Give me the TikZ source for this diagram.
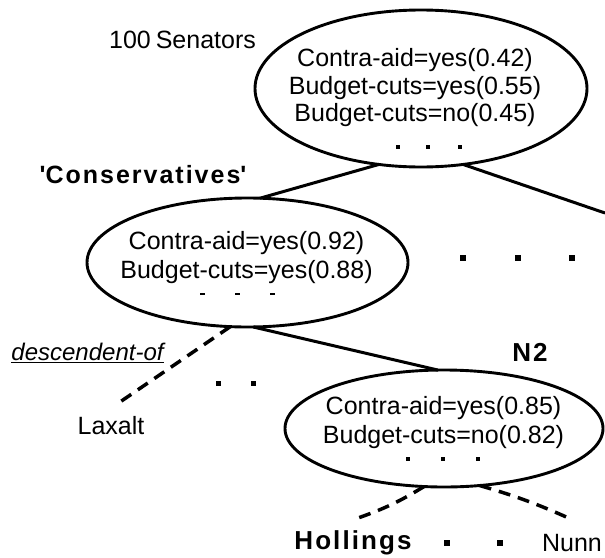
\documentclass[tikz,border=0pt]{standalone}
\usepackage{fontspec}
\setmainfont{Liberation Sans}
\newfontfamily\spacedfont[LetterSpace=8]{Liberation Sans}
\usetikzlibrary{shapes.geometric}
\tikzset{
  ell/.style={ellipse, draw, line width=2.9pt, inner sep=0pt, outer sep=0pt},
  txt/.style={font=\fontsize{25}{28}\selectfont, inner sep=0pt, align=center},
  btxt/.style={font=\spacedfont\bfseries\fontsize{25}{28}\selectfont, inner sep=0pt},
  sq/.style={fill, rectangle, inner sep=0pt, minimum size=#1},
  conn/.style={line width=3pt},
  dconn/.style={line width=3.5pt, dash pattern=on 12pt off 8pt},
}
\begin{document}
\begin{tikzpicture}[x=1pt,y=-1pt]
\useasboundingbox (0,0) rectangle (605,557);
% ellipses
\node[ell, minimum width=332pt, minimum height=157pt] (top) at (421,88.5) {};
\node[ell, minimum width=321pt, minimum height=129pt] (mid) at (247.5,262.5) {};
\node[ell, minimum width=318pt, minimum height=117pt] (low) at (444,428.5) {};
% ellipse texts
\node[txt, font=\fontsize{25}{27.5}\selectfont] (toptxt) at (415,88) {Contra-aid=yes(0.42)\\Budget-cuts=yes(0.55)\\Budget-cuts=no(0.45)};
\node[txt, font=\fontsize{25}{29}\selectfont] (midtxt) at (246.5,257.5) {Contra-aid=yes(0.92)\\Budget-cuts=yes(0.88)};
\node[txt, font=\fontsize{25}{29}\selectfont] (lowtxt) at (443.5,422.5) {Contra-aid=yes(0.85)\\Budget-cuts=no(0.82)};
% dots
\foreach \x [count=\i] in {398,428,460} \node[sq=3.5pt] (td\i) at (\x,147) {};
\foreach \x [count=\i] in {202,237,272} \node[fill, rectangle, inner sep=0pt, minimum width=5pt, minimum height=2.5pt] (mt\i) at (\x,294) {};
\foreach \x [count=\i] in {463,518,572} \node[sq=5.5pt] (rd\i) at (\x,258) {};
\foreach \x [count=\i] in {408,443,478} \node[sq=3.5pt] (ld\i) at (\x,459) {};
\foreach \x [count=\i] in {218,253} \node[sq=5pt] (md\i) at (\x,383) {};
\foreach \x [count=\i] in {447,500} \node[sq=5.5pt] (bd\i) at (\x,543) {};
% labels
\node[txt] (sen) at (182.5,40) {100\hspace{5pt}Senators};
\node[btxt] (cons) at (143,175) {\textquotesingle Conservatives\textquotesingle};
\node[txt, font=\fontsize{24}{28}\selectfont\itshape] (desc) at (87.5,353) {\underline{descendent-of}};
\node[btxt, font=\spacedfont\bfseries\fontsize{26}{28}\selectfont] (n2) at (530,352) {N2};
\node[txt] (lax) at (111,426) {Laxalt};
\node[btxt, font=\spacedfont\bfseries\fontsize{26}{28}\selectfont] (hol) at (353,543) {Hollings};
\node[txt] (nunn) at (572,543) {Nunn};
% connector ends
\coordinate (offr) at (605,213);
\coordinate (laxend) at (120,402);
\coordinate (holend) at (358,518);
\coordinate (nunend) at (573,520);
% connectors
\draw[conn] (top.-119) -- (mid.79);
\draw[conn] (top.-61) -- (offr);
\draw[conn] (mid.-85) -- (low.96);
\draw[dconn] (mid.-105) -- (laxend);
\draw[dconn] (low.-109) to[bend left=6] (holend);
\draw[dconn] (low.-58) to[bend left=4] (nunend);
\end{tikzpicture}
\end{document}
